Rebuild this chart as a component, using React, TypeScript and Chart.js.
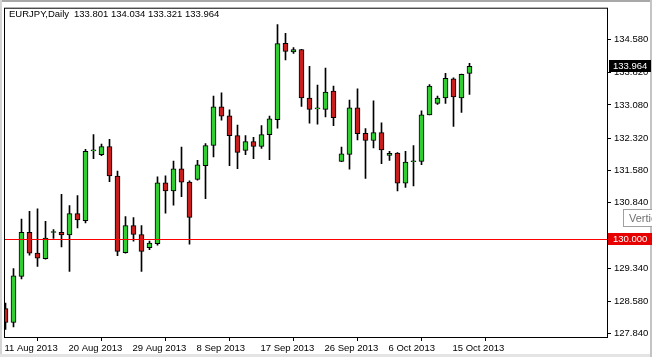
import React, { useEffect, useRef } from 'react';
import { Chart, registerables } from 'chart.js';

Chart.register(...registerables);

const symbolTitle = 'EURJPY,Daily';
const lastOHLC = [133.801, 134.034, 133.321, 133.964];

const opens = [
  128.415, 128.098, 129.153, 130.165, 129.690, 129.561, 130.158, 130.165, 130.104, 130.589,
  130.430, 132.028, 131.938, 132.128, 131.449, 129.697, 130.317, 130.113, 129.810, 129.900,
  131.297, 131.109, 131.614, 131.313, 131.372, 131.689, 132.151, 133.034, 132.830, 132.377,
  132.038, 132.241, 132.128, 132.400, 132.739, 134.489, 134.292, 134.347, 133.237, 132.988,
  132.979, 133.396, 131.788, 131.947, 133.011, 132.429, 132.264, 132.445, 131.924, 131.976,
  131.290, 131.779, 131.788, 132.853, 133.115, 133.237, 133.674, 133.237, 133.801,
];
const highs = [
  128.542, 129.334, 130.466, 130.641, 130.702, 130.414, 130.226, 131.032, 130.776, 131.003,
  132.060, 132.400, 132.180, 132.293, 131.562, 130.521, 130.498, 130.317, 129.961, 131.433,
  131.456, 131.795, 132.112, 131.342, 131.811, 132.196, 133.283, 133.357, 132.966, 132.617,
  132.377, 132.339, 132.604, 132.821, 134.920, 134.716, 134.392, 134.354, 133.962, 133.532,
  133.923, 133.509, 132.112, 133.192, 133.448, 132.536, 133.170, 132.671, 132.015, 131.990,
  132.015, 132.151, 132.943, 133.545, 133.283, 133.803, 133.697, 133.788, 134.034,
];
const lows = [
  127.940, 127.998, 129.094, 129.638, 129.380, 129.547, 130.023, 129.826, 129.266, 130.262,
  130.376, 131.847, 131.915, 131.320, 129.629, 129.683, 129.961, 129.266, 129.764, 129.871,
  130.602, 130.783, 130.980, 129.894, 131.358, 130.935, 131.886, 132.730, 131.689, 131.621,
  131.938, 131.847, 132.083, 131.825, 132.549, 134.111, 134.256, 133.047, 132.662, 132.640,
  132.807, 132.604, 131.780, 131.607, 132.277, 131.394, 132.096, 131.734, 131.811, 131.109,
  131.191, 131.222, 131.711, 132.848, 133.093, 133.115, 132.588, 132.905, 133.321,
];
const closes = [
  128.098, 129.169, 130.165, 129.683, 129.570, 130.029, 130.158, 130.104, 130.589, 130.444,
  132.015, 132.028, 132.128, 131.456, 129.728, 130.317, 130.113, 129.728, 129.916, 131.297,
  131.109, 131.614, 131.313, 130.505, 131.705, 132.151, 133.034, 132.821, 132.377, 131.992,
  132.241, 132.128, 132.400, 132.762, 134.483, 134.302, 134.347, 133.237, 132.979, 132.988,
  133.373, 132.785, 131.961, 133.011, 132.422, 132.264, 132.445, 132.051, 131.970, 131.290,
  131.773, 131.779, 132.853, 133.509, 133.237, 133.690, 133.260, 133.781, 133.964,
];

const dateLabels = ['11 Aug 2013', '20 Aug 2013', '29 Aug 2013', '8 Sep 2013', '17 Sep 2013', '26 Sep 2013', '6 Oct 2013', '15 Oct 2013'];
const dateTickIndex = [0, 8, 16, 24, 32, 40, 48, 56];
const priceTicks = [127.84, 128.58, 129.34, 130.08, 130.84, 131.58, 132.32, 133.08, 133.82, 134.58];
const levelLine = 130.0;

const BULL = '#32cd32';
const BEAR = '#c81e1e';
const LEVEL = '#ff0000';
const FONT = 'Liberation Sans';

const decorPlugin = {
  id: 'mt4decor',
  beforeDraw(chart: any) {
    const { ctx, width, height } = chart;
    ctx.save();
    ctx.fillStyle = '#ffffff';
    ctx.fillRect(0, 0, width, height);
    ctx.restore();
  },
  afterDatasetsDraw(chart: any) {
    const { ctx, chartArea } = chart;
    const y = Math.round(chart.scales.y.getPixelForValue(levelLine));
    ctx.save();
    ctx.fillStyle = LEVEL;
    ctx.fillRect(chartArea.left - 1, y, chartArea.right - chartArea.left + 1, 1);
    ctx.restore();
  },
  afterDraw(chart: any) {
    const { ctx, chartArea, width, height } = chart;
    const ys = chart.scales.y;
    ctx.save();
    // plot frame
    ctx.strokeStyle = '#000000';
    ctx.lineWidth = 1;
    ctx.strokeRect(chartArea.left - 0.5, chartArea.top - 0.5, chartArea.right - chartArea.left + 1, chartArea.bottom - chartArea.top + 1);
    // window chrome
    ctx.fillStyle = '#a8a8a8';
    ctx.fillRect(0, 0, width, 2);
    ctx.fillStyle = '#d4d4d4';
    ctx.fillRect(0, 0, 2, height);
    ctx.fillStyle = '#e4e4e4';
    ctx.fillRect(0, height - 3, width, 3);
    ctx.fillStyle = '#c4c4c4';
    ctx.fillRect(width - 2, 0, 2, height);
    // title
    ctx.fillStyle = '#000000';
    ctx.font = `9.5px "${FONT}"`;
    ctx.textBaseline = 'alphabetic';
    ctx.textAlign = 'left';
    ctx.fillText(symbolTitle, 9, 16.5);
    ctx.fillText(lastOHLC.map((v) => v.toFixed(3)).join(' '), 74, 16.5);
    // last price box
    const lastClose = closes[closes.length - 1];
    const py = ys.getPixelForValue(lastClose);
    ctx.fillStyle = '#000000';
    ctx.fillRect(chartArea.right + 2, Math.round(py) - 6, 42, 12);
    ctx.fillStyle = '#ffffff';
    ctx.textBaseline = 'middle';
    ctx.fillText(lastClose.toFixed(3), chartArea.right + 6, Math.round(py) + 0.5);
    // level box
    const ly = ys.getPixelForValue(levelLine);
    ctx.fillStyle = '#e60000';
    ctx.fillRect(chartArea.right + 1, Math.round(ly) - 6, 44, 12);
    ctx.fillStyle = '#ffffff';
    ctx.fillText(levelLine.toFixed(3), chartArea.right + 6, Math.round(ly) + 0.5);
    // vertical line hint box
    ctx.fillStyle = '#ffffff';
    ctx.fillRect(623.5, 209.5, 40, 17);
    ctx.strokeStyle = '#a0a0a0';
    ctx.strokeRect(623.5, 209.5, 40, 17);
    ctx.fillStyle = '#707070';
    ctx.font = `11px "${FONT}"`;
    ctx.textBaseline = 'alphabetic';
    ctx.fillText('Vertical Line', 629, 222);
    ctx.restore();
  },
};

export default function App() {
  const ref = useRef<HTMLCanvasElement | null>(null);

  useEffect(() => {
    if (!ref.current) return;
    const wickData = lows.map((l, i) => ({ x: i, y: [l, highs[i]] }));
    const bodyData = opens.map((o, i) => ({ x: i, y: [o, closes[i]] }));
    const bodyColors = opens.map((o, i) => (closes[i] >= o ? BULL : BEAR));

    const chart = new Chart(ref.current, {
      type: 'bar',
      data: {
        datasets: [
          {
            label: 'wick',
            data: wickData as any,
            backgroundColor: '#000000',
            borderWidth: 0,
            barThickness: 1,
            grouped: false,
            order: 2,
          } as any,
          {
            label: 'body',
            data: bodyData as any,
            backgroundColor: bodyColors,
            borderColor: '#000000',
            borderWidth: 1,
            borderSkipped: false,
            barThickness: 5,
            minBarLength: 1,
            grouped: false,
            order: 1,
          } as any,
        ],
      },
      options: {
        animation: false,
        responsive: false,
        events: [],
        layout: { padding: { left: 5, top: 5, right: 0, bottom: 0 } },
        plugins: { legend: { display: false }, tooltip: { enabled: false }, title: { display: false } },
        scales: {
          x: {
            type: 'linear',
            min: -0.0625,
            max: 75.1875,
            offset: false,
            border: { display: false },
            grid: { display: true, drawOnChartArea: false, drawTicks: true, tickLength: 4, color: '#000000' },
            ticks: {
              autoSkip: false,
              maxRotation: 0,
              minRotation: 0,
              align: 'start',
              labelOffset: -1,
              padding: 2,
              color: '#000000',
              font: { family: FONT, size: 9.5 },
              callback: (value: any) => {
                const k = dateTickIndex.indexOf(Number(value));
                return k >= 0 ? dateLabels[k] : '';
              },
            },
            afterBuildTicks: (scale: any) => {
              scale.ticks = dateTickIndex.map((v) => ({ value: v }));
            },
            afterFit: (scale: any) => {
              scale.height = 20;
            },
          } as any,
          y: {
            type: 'linear',
            position: 'right',
            min: 127.766,
            max: 135.282,
            border: { display: false },
            grid: { display: true, drawOnChartArea: false, drawTicks: true, tickLength: 4, color: '#000000' },
            ticks: {
              padding: 3,
              color: '#000000',
              font: { family: FONT, size: 9.5 },
              callback: (value: any) => Number(value).toFixed(3),
            },
            afterBuildTicks: (scale: any) => {
              scale.ticks = priceTicks.map((v) => ({ value: v }));
            },
            afterFit: (scale: any) => {
              scale.width = 45;
            },
          } as any,
        },
      },
      plugins: [decorPlugin],
    });
    return () => chart.destroy();
  }, []);

  return (
    <div style={{ position: 'absolute', left: 0, top: 0, width: 652, height: 357 }}>
      <canvas ref={ref} width={652} height={357} style={{ display: 'block', width: 652, height: 357 }} />
    </div>
  );
}
